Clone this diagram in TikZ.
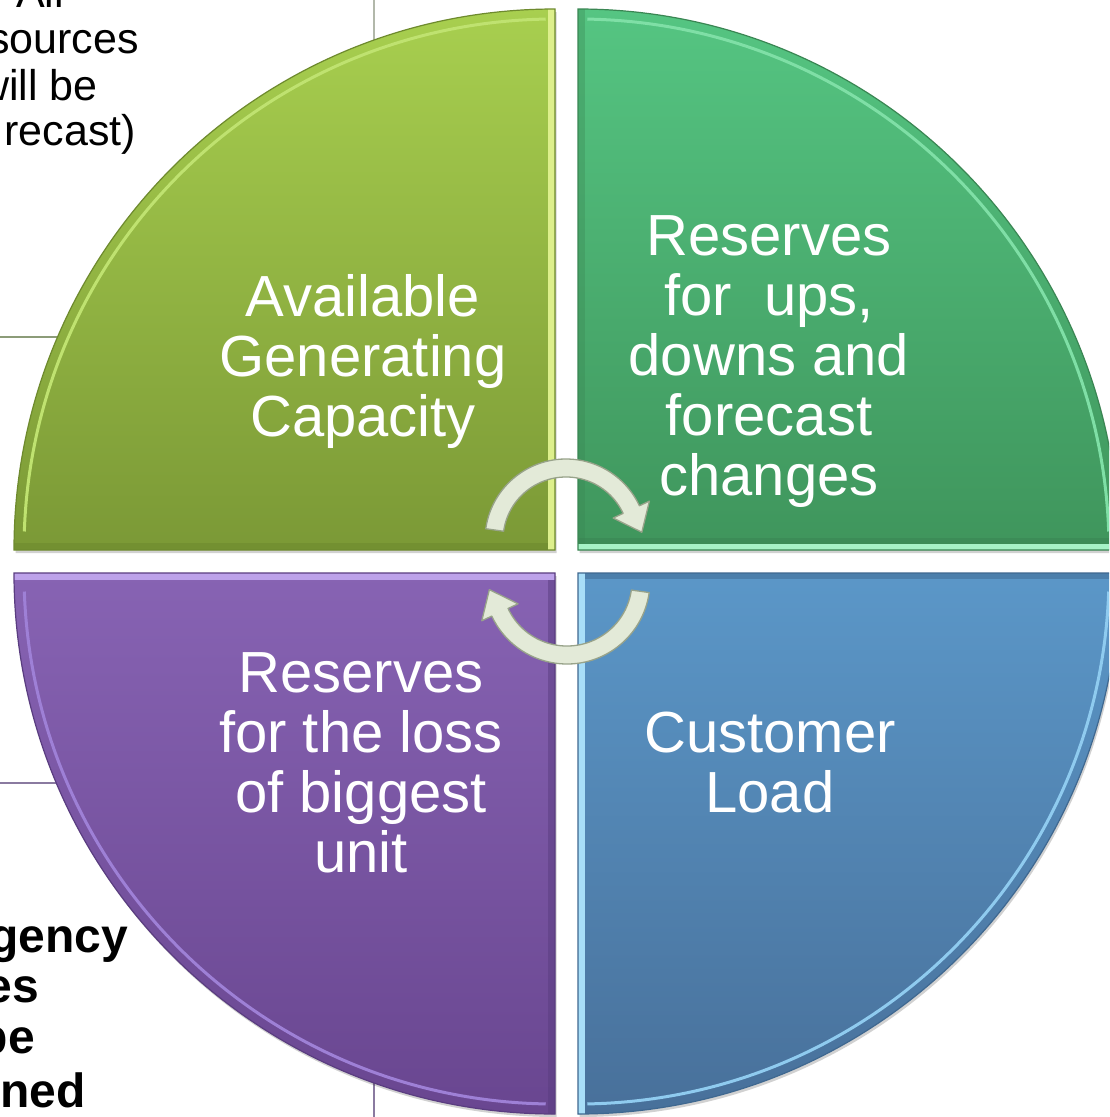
\documentclass[tikz,border=0pt]{standalone}
\usepackage{fontspec}
\setmainfont{Liberation Sans}
\usetikzlibrary{calc}
\definecolor{tlTop}{HTML}{A8CF4F}
\definecolor{tlBot}{HTML}{7B9936}
\definecolor{tlHi}{HTML}{DDEF8C}
\definecolor{tlArc}{HTML}{BFE270}
\definecolor{tlDark}{HTML}{6E8A2E}
\definecolor{trTop}{HTML}{55C582}
\definecolor{trBot}{HTML}{3F955C}
\definecolor{trHi}{HTML}{A6F2C6}
\definecolor{trArc}{HTML}{7FDFA6}
\definecolor{trDark}{HTML}{3A8653}
\definecolor{blTop}{HTML}{8763B3}
\definecolor{blBot}{HTML}{694690}
\definecolor{blHi}{HTML}{BDA2EA}
\definecolor{blArc}{HTML}{9E80D6}
\definecolor{blDark}{HTML}{5A3D80}
\definecolor{brTop}{HTML}{5B97C8}
\definecolor{brBot}{HTML}{48709A}
\definecolor{brHi}{HTML}{A8DEF8}
\definecolor{brArc}{HTML}{8FCBEF}
\definecolor{brDark}{HTML}{3F6890}
\definecolor{arrFill}{HTML}{E3EAD8}
\definecolor{arrEdge}{HTML}{98A38A}
\definecolor{lineTop}{HTML}{B2B8AA}
\definecolor{lineGreen}{HTML}{8C9C78}
\definecolor{linePurple}{HTML}{8A7AA0}
\tikzset{
  pathTL/.style={insert path={(555,-550) -- (14,-550) arc[start angle=180,end angle=90,radius=541] -- cycle}},
  pathTR/.style={insert path={(578,-550) -- (578,-9) arc[start angle=90,end angle=0,radius=541] -- cycle}},
  pathBL/.style={insert path={(555,-573) -- (555,-1114) arc[start angle=270,end angle=180,radius=541] -- cycle}},
  pathBR/.style={insert path={(578,-573) -- (1119,-573) arc[start angle=0,end angle=-90,radius=541] -- cycle}},
  qshadow/.style={fill=black, opacity=0.18},
  qtext/.style={text=white, align=center, inner sep=0pt, font=\fontsize{58}{60}\selectfont},
  sidetext/.style={text=black, inner sep=0pt, anchor=base east, font=\fontsize{43}{46}\selectfont},
  sidebold/.style={text=black, inner sep=0pt, anchor=base east, font=\bfseries\fontsize{48}{52}\selectfont},
  arrowbody/.style={fill=arrFill, draw=arrEdge, line width=1.3pt, line join=round},
}
\begin{document}
\begin{tikzpicture}[x=1pt,y=1pt]
\path[use as bounding box] (0,0) rectangle (1109,-1117);
\begin{scope}
\clip (0,0) rectangle (1109,-1117);
\fill[white] (0,0) rectangle (1109,-1117);
% background table lines
\draw[lineTop, line width=1.2pt] (374,0) -- (374,-300);
\draw[lineGreen, line width=1.2pt] (0,-337) -- (300,-337);
\draw[linePurple, line width=1.2pt] (0,-783) -- (300,-783);
\draw[linePurple, line width=1.4pt] (374,-900) -- (374,-1117);
% shadows
\path[qshadow, shift={(1.5,-3)}, pathTL];
\path[qshadow, shift={(1.5,-3)}, pathTR];
\path[qshadow, shift={(1.5,-3)}, pathBL];
\path[qshadow, shift={(1.5,-3)}, pathBR];
% top-left quadrant
\path[top color=tlTop, bottom color=tlBot, pathTL];
\begin{scope}
\clip[pathTL];
\fill[tlDark, opacity=0.6] (0,-543) rectangle (555,-550);
\fill[tlHi] (548,0) rectangle (555,-550);
\draw[tlArc, line width=3pt] ($(555,-550)+(178:531)$) arc[start angle=178,end angle=91,radius=531];
\end{scope}
\draw[tlDark, line width=1.2pt, pathTL];
% top-right quadrant
\path[top color=trTop, bottom color=trBot, pathTR];
\begin{scope}
\clip[pathTR];
\fill[trDark, opacity=0.6] (578,-538) rectangle (1109,-544);
\fill[trHi] (578,-544) rectangle (1109,-550);
\fill[trDark, opacity=0.35] (578,0) rectangle (585,-544);
\draw[trArc, line width=3pt] ($(578,-550)+(89:531)$) arc[start angle=89,end angle=2,radius=531];
\end{scope}
\draw[trDark, line width=1.2pt, pathTR];
% bottom-left quadrant
\path[top color=blTop, bottom color=blBot, pathBL];
\begin{scope}
\clip[pathBL];
\fill[blHi] (0,-573) rectangle (555,-580);
\fill[blDark, opacity=0.5] (548,-580) rectangle (555,-1117);
\draw[blArc, line width=3pt] ($(555,-573)+(182:531)$) arc[start angle=182,end angle=269,radius=531];
\end{scope}
\draw[blDark, line width=1.2pt, pathBL];
% bottom-right quadrant
\path[top color=brTop, bottom color=brBot, pathBR];
\begin{scope}
\clip[pathBR];
\fill[brDark, opacity=0.5] (578,-573) rectangle (1109,-579);
\fill[brHi] (578,-573) rectangle (585,-1117);
\draw[brArc, line width=3pt] ($(578,-573)+(-2:531)$) arc[start angle=-2,end angle=-89,radius=531];
\end{scope}
\draw[brDark, line width=1.2pt, pathBR];
% curved arrows
\coordinate (c1) at (566,-540);
\coordinate (c2) at (567,-581);
\path[arrowbody] ($(c1)+(172:81)$) arc[start angle=172,end angle=25,radius=81]
  -- ($(c1)+(25:92)$) -- ($(c1)+(25:72)+(-65:25)$) -- ($(c1)+(25:52)$)
  -- ($(c1)+(25:63)$) arc[start angle=25,end angle=172,radius=63] -- cycle;
\path[arrowbody] ($(c2)+(-8:83)$) arc[start angle=-8,end angle=-155,radius=83]
  -- ($(c2)+(-155:94)$) -- ($(c2)+(-155:74)+(115:25)$) -- ($(c2)+(-155:54)$)
  -- ($(c2)+(-155:65)$) arc[start angle=-155,end angle=-8,radius=65] -- cycle;
% quadrant texts
\node[qtext] (avail) at (363,-361) {Available\\Generating\\Capacity};
\node[qtext] (ups) at (769,-362) {Reserves\\for\ \ ups,\\downs and\\forecast\\changes};
\node[qtext] (loss) at (361,-763) {Reserves\\for the loss\\of biggest\\unit};
\node[qtext] (load) at (770,-763) {Customer\\Load};
% cut-off side texts
\node[sidetext] (s1) at (64,-7) {All};
\node[sidetext] (s2) at (139,-53) {sources};
\node[sidetext] (s3) at (98,-100) {will be};
\node[sidetext] (s4) at (136,-145) {recast)};
\node[sidebold] (b1) at (128,-952) {gency};
\node[sidebold] (b2) at (39,-1002) {es};
\node[sidebold] (b3) at (35,-1053) {be};
\node[sidebold] (b4) at (86,-1107) {ned};
\end{scope}
\end{tikzpicture}
\end{document}
